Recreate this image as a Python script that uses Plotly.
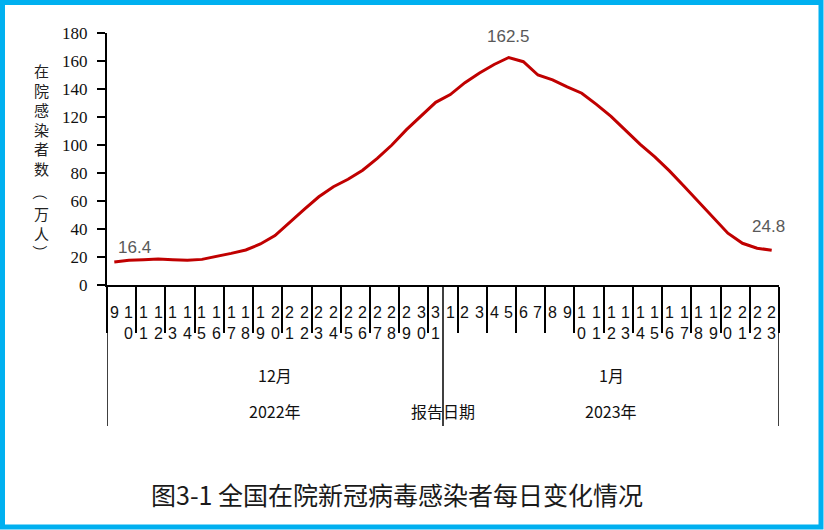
import plotly.graph_objects as go

# ---------------- data ----------------
dec_days = list(range(9, 32))          # 2022-12-09 .. 12-31
jan_days = list(range(1, 24))          # 2023-01-01 .. 01-23
dec_values = [16.4, 17.6, 18.0, 18.5, 18.0, 17.6, 18.3, 20.2, 22.6, 25.0, 29.3, 35.3,
              45.0, 54.0, 63.0, 70.2, 75.5, 82.0, 90.5, 100.0, 111.0, 120.5, 130.5]
jan_values = [136.0, 144.5, 151.5, 157.5, 162.5, 159.5, 150.0, 146.5, 141.5, 137.0,
              129.0, 120.5, 110.5, 100.5, 91.5, 81.5, 70.5, 59.5, 48.0, 37.0,
              29.8, 26.3, 24.8]
month_labels = ["12月", "1月"]
year_labels = ["2022年", "2023年"]
x_title = "报告日期"
y_title_main = ["在", "院", "感", "染", "者", "数"]
y_title_unit = ["万", "人"]
y_ticks = [0, 20, 40, 60, 80, 100, 120, 140, 160, 180]
caption = "图3-1 全国在院新冠病毒感染者每日变化情况"

categories = [f"12-{d:02d}" for d in dec_days] + [f"01-{d:02d}" for d in jan_days]
day_texts = [str(d) for d in dec_days] + [str(d) for d in jan_days]
values = dec_values + jan_values
n = len(categories)
groups = [len(dec_days), len(jan_days)]

# ---------------- layout helpers (pixel -> paper) ----------------
W, H = 824, 530
L, R, T, B = 107, 45, 33, 245
PW, PH = W - L - R, H - T - B


def px(x):
    return (x - L) / PW


def py(y):
    return (H - B - y) / PH


RED = "#C00000"
CJK = "Noto Sans CJK SC"
fig = go.Figure()
fig.add_trace(go.Scatter(x=categories, y=values, mode="lines",
                         line=dict(color=RED, width=3), hoverinfo="x+y",
                         showlegend=False))

ann = []
# day labels (digits stacked vertically)
for c, t in zip(categories, day_texts):
    ann.append(dict(x=c, xref="x", y=py(302), yref="paper", yanchor="top",
                    xanchor="center", showarrow=False, text="<br>".join(t),
                    font=dict(family="Liberation Sans", size=16, color="#111")))

# month / year group labels + separators
shapes = []
start = 0
bounds = [-0.5]
for g, m, yl in zip(groups, month_labels, year_labels):
    center = start + (g - 1) / 2
    ann.append(dict(x=center, xref="x", y=py(375), yref="paper", showarrow=False,
                    xanchor="center", yanchor="middle",
                    text=m, font=dict(family=CJK, size=16, color="#111")))
    ann.append(dict(x=center, xref="x", y=py(411), yref="paper", showarrow=False,
                    xanchor="center", yanchor="middle",
                    text=yl, font=dict(family=CJK, size=16, color="#111")))
    start += g
    bounds.append(start - 0.5)
ann.append(dict(x=bounds[1], xref="x", y=py(411), yref="paper", showarrow=False,
                xanchor="center", yanchor="middle",
                text=x_title, font=dict(family=CJK, size=16, color="#111")))
for b in bounds:
    shapes.append(dict(type="line", xref="x", yref="paper", x0=b, x1=b,
                       y0=0, y1=py(426), line=dict(color="black", width=1.5)))

# data labels: first, max, last
imax = values.index(max(values))
for i, xs, ys in [(0, 20, 15), (imax, 0, 21), (n - 1, -3, 24)]:
    ann.append(dict(x=categories[i], y=values[i], xref="x", yref="y", showarrow=False,
                    xanchor="center", yanchor="middle",
                    text=f"{values[i]:.1f}", xshift=xs, yshift=ys,
                    font=dict(family="Liberation Sans", size=17, color="#595959")))

# y-axis title (vertical stacked characters, brackets rotated)
yt_font = dict(family=CJK, size=15, color="#222")
ann.append(dict(x=px(41), y=py(119.5), xref="paper", yref="paper", showarrow=False,
                xanchor="center", yanchor="middle",
                text="<br>".join(y_title_main), font=yt_font))
ann.append(dict(x=px(41), y=py(192), xref="paper", yref="paper", showarrow=False,
                xanchor="center", yanchor="middle", textangle=90,
                text="（", font=yt_font))
ann.append(dict(x=px(41), y=py(223.5), xref="paper", yref="paper", showarrow=False,
                xanchor="center", yanchor="middle",
                text="<br>".join(y_title_unit), font=yt_font))
ann.append(dict(x=px(41), y=py(252), xref="paper", yref="paper", showarrow=False,
                xanchor="center", yanchor="middle", textangle=90,
                text="）", font=yt_font))

# caption
ann.append(dict(x=px(397), y=py(494), xref="paper", yref="paper", showarrow=False,
                xanchor="center", yanchor="middle",
                text=caption, font=dict(family=CJK, size=25, color="#1a1a1a")))

# blue frame
shapes.append(dict(type="rect", xref="paper", yref="paper",
                   x0=px(2.5), x1=px(821), y0=py(527), y1=py(2.5),
                   line=dict(color="#00B0F0", width=5), fillcolor="rgba(0,0,0,0)",
                   layer="above"))

fig.update_layout(
    width=W, height=H, margin=dict(l=L, r=R, t=T, b=B),
    paper_bgcolor="white", plot_bgcolor="white",
    annotations=ann, shapes=shapes, showlegend=False,
    xaxis=dict(type="category", categoryorder="array", categoryarray=categories,
               range=[-0.5, n - 0.5], showgrid=False, zeroline=False,
               showline=True, linecolor="black", linewidth=1.5,
               ticks="outside", tickson="boundaries", ticklen=46, tickwidth=1.5,
               tickcolor="black", showticklabels=False),
    yaxis=dict(range=[0, 180], tickvals=y_ticks, showgrid=False, zeroline=False,
               showline=True, linecolor="black", linewidth=2,
               ticks="outside", ticklen=8, tickwidth=1.5, tickcolor="black",
               ticklabelstandoff=6,
               tickfont=dict(family="Liberation Serif, Times New Roman, serif",
                             size=17, color="#111")),
)

fig.write_html("out.html")
